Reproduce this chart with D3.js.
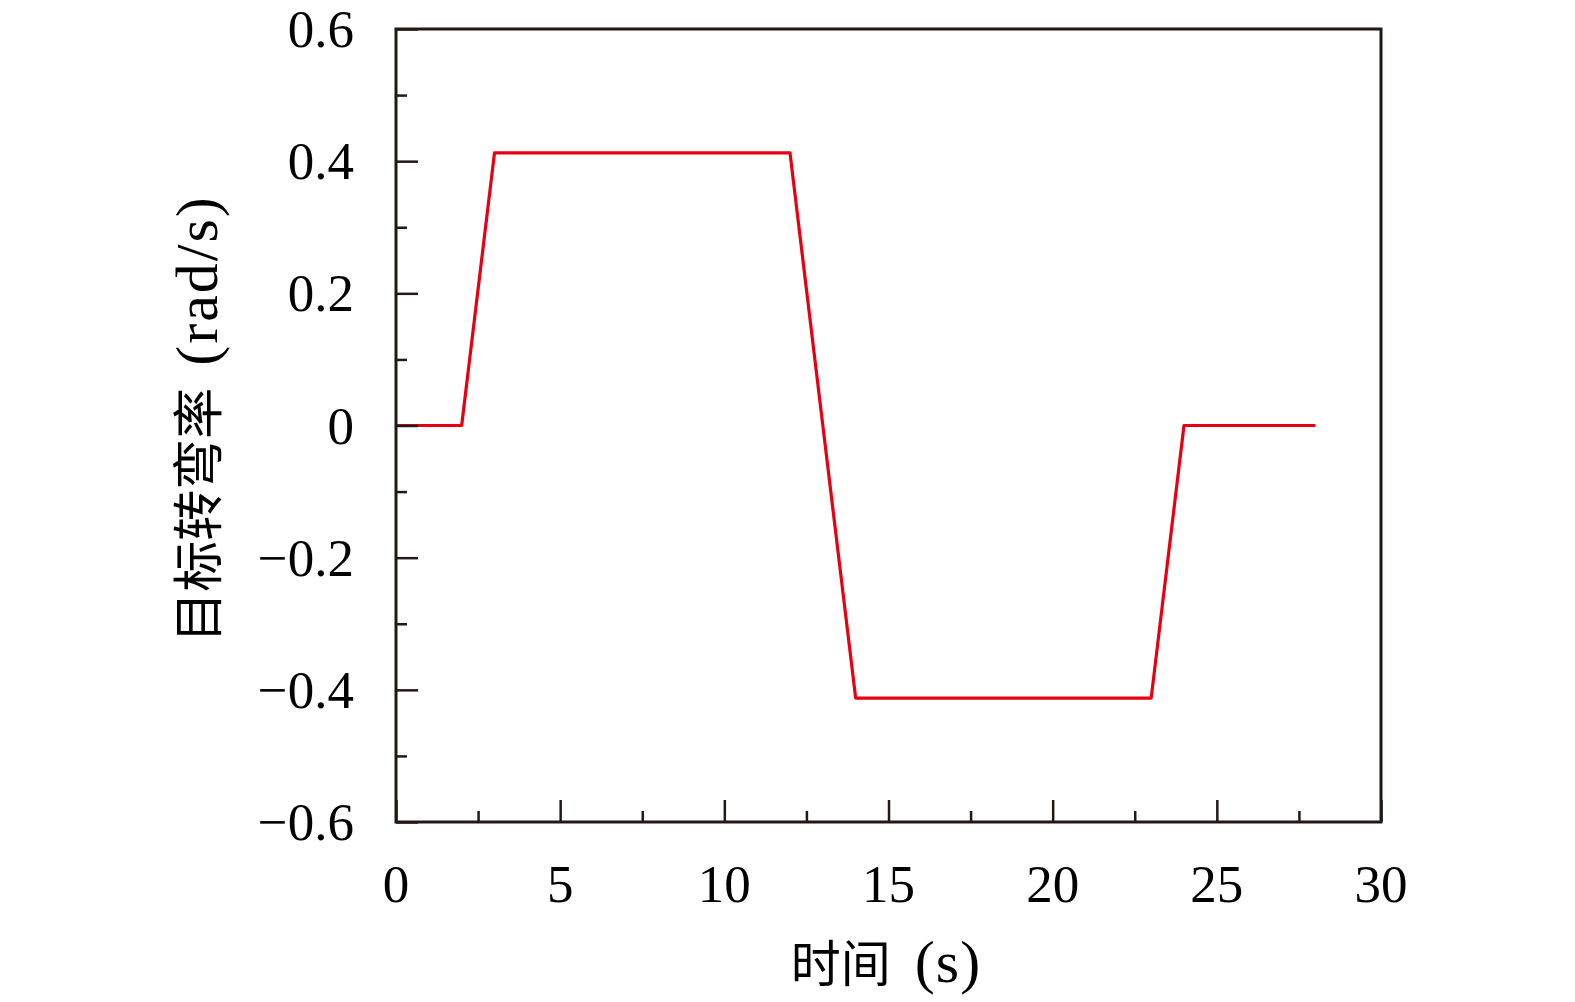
<!DOCTYPE html>
<html><head><meta charset="utf-8">
<script src="https://cdn.jsdelivr.net/npm/d3@7"></script>
<style>body{margin:0;background:#fff}svg{display:block}</style>
</head><body>
<svg id="c" width="1575" height="1002"></svg>
<script>
const timeS = [0, 2, 3, 12, 14, 23, 24, 28];
const turnRate = [0, 0, 0.4125, 0.4125, -0.4125, -0.4125, 0, 0];
const xTicks = [0, 5, 10, 15, 20, 25, 30];
const yTicks = [-0.6, -0.4, -0.2, 0, 0.2, 0.4, 0.6];
const xLabelCJK = "时间", xLabelUnit = "(s)";
const yLabelCJK = "目标转弯率", yLabelUnit = "(rad/s)";

const L = 396, R = 1381, T = 29, B = 822;
const svg = d3.select("#c");
const x = d3.scaleLinear().domain([0, 30]).range([L, R]);
const y = d3.scaleLinear().domain([-0.6, 0.6]).range([B, T]);
const axisColor = "#231815";
const serif = "'Liberation Serif','DejaVu Serif',serif";
const cjk = "'Noto Sans CJK SC',sans-serif";
const fmt = v => (v < 0 ? "\u2212" : "") + (v === 0 ? "0" : Math.abs(v).toFixed(1));

// line
const data = timeS.map((t, i) => [t, turnRate[i]]);
svg.append("path").datum(data)
  .attr("d", d3.line().x(d => x(d[0])).y(d => y(d[1])))
  .attr("fill", "none").attr("stroke", "#e60012").attr("stroke-width", 3.2)
  .attr("stroke-linejoin", "round");

// bottom axis (inward ticks)
const xMinor = d3.range(0, 30.01, 2.5).filter(v => !xTicks.includes(v));
const gx = svg.append("g").attr("transform", `translate(0,${B})`);
gx.call(d3.axisBottom(x).tickValues(xTicks).tickSize(-22).tickSizeOuter(0).tickFormat(() => ""));
gx.append("g").call(d3.axisBottom(x).tickValues(xMinor).tickSize(-11).tickSizeOuter(0).tickFormat(() => ""));
gx.selectAll(".domain").remove();
gx.selectAll("line").attr("stroke", axisColor).attr("stroke-width", 2.5);
gx.selectAll(".xl").data(xTicks).enter().append("text")
  .attr("x", d => x(d)).attr("y", 80).attr("text-anchor", "middle")
  .attr("font-family", serif).attr("font-size", 53).attr("fill", "#000").text(d => d);

// left axis
const yMinor = d3.range(-0.5, 0.51, 0.2).map(v => +v.toFixed(1));
const gy = svg.append("g").attr("transform", `translate(${L},0)`);
gy.call(d3.axisLeft(y).tickValues(yTicks).tickSize(-22).tickSizeOuter(0).tickFormat(() => ""));
gy.append("g").call(d3.axisLeft(y).tickValues(yMinor).tickSize(-11).tickSizeOuter(0).tickFormat(() => ""));
gy.selectAll(".domain").remove();
gy.selectAll("line").attr("stroke", axisColor).attr("stroke-width", 2.5);
gy.selectAll(".yl").data(yTicks).enter().append("text")
  .attr("x", -42).attr("y", d => y(d)).attr("dy", "0.34em").attr("text-anchor", "end")
  .attr("font-family", serif).attr("font-size", 53).attr("fill", "#000").text(fmt);

// frame
svg.append("rect").attr("x", L).attr("y", T).attr("width", R - L).attr("height", B - T)
  .attr("fill", "none").attr("stroke", axisColor).attr("stroke-width", 3);

// labels
const xl = svg.append("text").attr("x", 886).attr("y", 982).attr("text-anchor", "middle").attr("fill", "#000");
xl.append("tspan").attr("font-family", cjk).attr("font-size", 50).text(xLabelCJK);
xl.append("tspan").attr("dx", 24).attr("font-family", serif).attr("font-size", 60).attr("letter-spacing", 1).text(xLabelUnit);

const yl = svg.append("text").attr("transform", `translate(217,419) rotate(-90)`).attr("text-anchor", "middle").attr("fill", "#000");
yl.append("tspan").attr("font-family", cjk).attr("font-size", 51).text(yLabelCJK);
yl.append("tspan").attr("dx", 22).attr("font-family", serif).attr("font-size", 60).attr("letter-spacing", 2).text(yLabelUnit);
</script>
</body></html>
